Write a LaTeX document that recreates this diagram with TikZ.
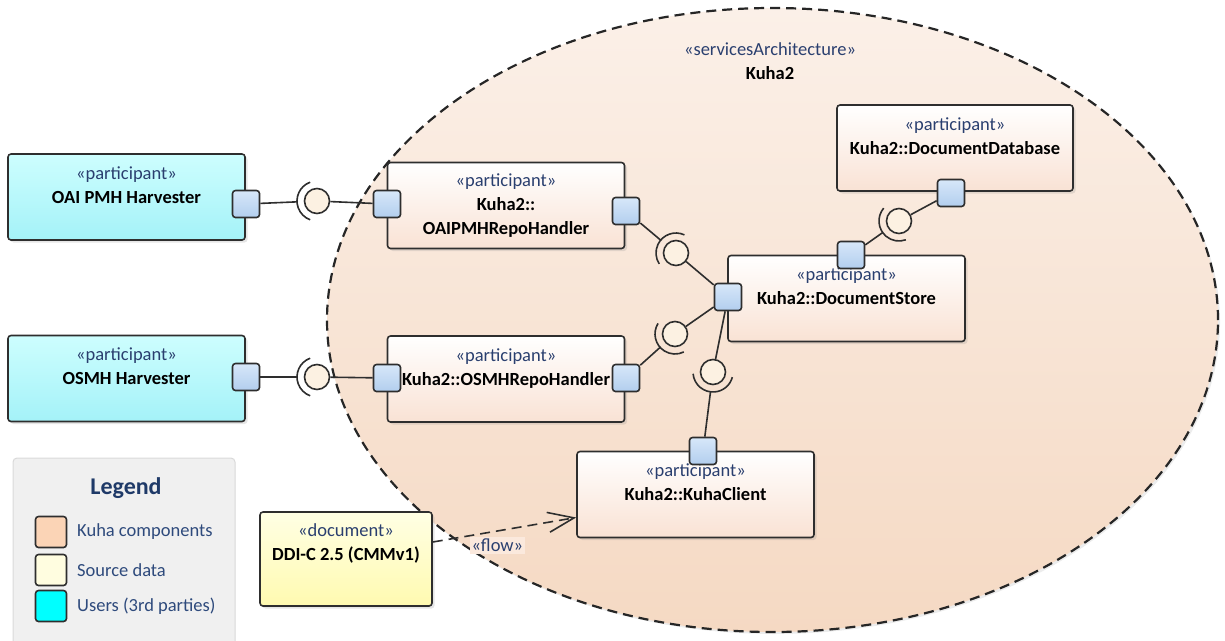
\documentclass[tikz,border=0pt]{standalone}
\usepackage{fontspec}
\setmainfont{Carlito}
\usepackage{tikz}
\usetikzlibrary{arrows.meta}
\usetikzlibrary{calc}
\usetikzlibrary{shapes.geometric, shadows}

\definecolor{areatop}{HTML}{FBF0E8}
\definecolor{areabot}{HTML}{F5D9C3}
\definecolor{compbot}{HTML}{F9E2D4}
\definecolor{usertop}{HTML}{CDFEFE}
\definecolor{userbot}{HTML}{A4F2F8}
\definecolor{porttop}{HTML}{D7E7F9}
\definecolor{portbot}{HTML}{B2CEEE}
\definecolor{ballfill}{HTML}{FCF1E2}
\definecolor{doctop}{HTML}{FFFFE4}
\definecolor{docbot}{HTML}{FFFAB0}
\definecolor{stereo}{HTML}{2A3F6F}
\definecolor{legendtxt}{HTML}{2E4A7C}
\definecolor{legendhead}{HTML}{1F3A68}
\definecolor{edge}{HTML}{2E2E2E}
\definecolor{swkuha}{HTML}{FBD4B6}
\definecolor{swsrc}{HTML}{FFFDE0}
\definecolor{swuser}{HTML}{00FFFF}
\definecolor{flowbg}{HTML}{FBE9DD}

\begin{document}
\begin{tikzpicture}[x=1pt, y=-1pt, line join=round,
    every node/.style={font=\fontsize{18.5}{24}\selectfont},
    comp/.style={draw=edge, line width=1.6pt, rounded corners=3pt,
        minimum width=237pt, minimum height=86pt, top color=white,
        bottom color=compbot, align=center, inner sep=0pt,
        drop shadow={shadow xshift=2.5pt, shadow yshift=-2.5pt, opacity=0.2}},
    user/.style={comp, top color=usertop, bottom color=userbot},
    doc/.style={comp, minimum width=172pt, minimum height=94pt,
        top color=doctop, bottom color=docbot},
    port/.style={draw=edge, line width=1.6pt, rounded corners=3pt,
        minimum size=27pt, inner sep=0pt, top color=porttop, bottom color=portbot},
    ball/.style={draw=edge, line width=1.6pt, circle, minimum size=25pt,
        inner sep=0pt, fill=ballfill},
    wire/.style={draw=edge, line width=1.6pt},
    swatch/.style={draw=edge, line width=1.6pt, rounded corners=3pt,
        minimum width=31pt, minimum height=31pt, inner sep=0pt}]

\useasboundingbox (0,0) rectangle (1225,640);

% Kuha2 services architecture
\node[ellipse, draw=black!85, line width=2.2pt, dash pattern=on 10pt off 6pt,
    minimum width=891pt, minimum height=624pt, top color=areatop, bottom color=areabot,
    drop shadow={shadow xshift=2pt, shadow yshift=-2pt, opacity=0.15}] (kuha) at (772.5,320) {};
\node[align=center, inner sep=0pt] (kuha-title) at (770,61)
    {\textcolor{stereo}{«servicesArchitecture»}\\ \textbf{Kuha2}};

% participants
\draw (126.5,197) node[user] (oai) {\textcolor{stereo}{«participant»}\\ \textbf{OAI PMH Harvester}\\ \mbox{}};
\draw (126.5,378.5) node[user] (osmh) {\textcolor{stereo}{«participant»}\\ \textbf{OSMH Harvester}\\ \mbox{}};
\draw (506,205.5) node[comp] (oaih) {\textcolor{stereo}{«participant»}\\ \textbf{Kuha2::}\\ \textbf{OAIPMHRepoHandler}};
\draw (506,379) node[comp] (osmhh) {\textcolor{stereo}{«participant»}\\ \textbf{Kuha2::OSMHRepoHandler}\\ \mbox{}};
\draw (846.5,298.5) node[comp] (store) {\textcolor{stereo}{«participant»}\\ \textbf{Kuha2::DocumentStore}\\ \mbox{}};
\draw (955,148) node[comp, minimum width=236pt] (db) {\textcolor{stereo}{«participant»}\\ \textbf{Kuha2::DocumentDatabase}\\ \mbox{}};
\draw (695.5,494.5) node[comp] (client) {\textcolor{stereo}{«participant»}\\ \textbf{Kuha2::KuhaClient}\\ \mbox{}};

% ports
\draw (246,204) node[port] (p-oai) {};
\draw (387,204) node[port] (p-oaih-l) {};
\draw (626,211) node[port] (p-oaih-r) {};
\draw (246,377) node[port] (p-osmh) {};
\draw (387,378) node[port] (p-osmhh-l) {};
\draw (626,378) node[port] (p-osmhh-r) {};
\draw (728,297) node[port] (p-store-l) {};
\draw (851,255) node[port] (p-store-t) {};
\draw (951,193) node[port] (p-db) {};
\draw (703,451) node[port] (p-client) {};

% provided interfaces
\draw (317,201) node[ball] (b-oai) {};
\draw (317,377) node[ball] (b-osmh) {};
\draw (676,253) node[ball] (b-oaih) {};
\draw (675,334) node[ball] (b-osmhh) {};
\draw (713,372) node[ball] (b-client) {};
\draw (899,221) node[ball] (b-db) {};

\draw[wire] (b-oai) -- (p-oaih-l);
\draw[wire] (b-osmh) -- (p-osmhh-l);
\draw[wire] (b-oaih) -- (p-store-l);
\draw[wire] (b-osmhh) -- (p-store-l);
\draw[wire] (b-client) -- (p-store-l);
\draw[wire] (b-db) -- (p-db);

% required interfaces
\draw[wire] (p-oai) -- ($(b-oai)!20pt!(p-oai)$);
\draw[wire] (p-osmh) -- ($(b-osmh)!20pt!(p-osmh)$);
\draw[wire] (p-oaih-r) -- ($(b-oaih)!20pt!(p-oaih-r)$);
\draw[wire] (p-osmhh-r) -- ($(b-osmhh)!20pt!(p-osmhh-r)$);
\draw[wire] (p-client) -- ($(b-client)!20pt!(p-client)$);
\draw[wire] (p-store-t) -- ($(b-db)!20pt!(p-store-t)$);

\draw[wire] ([shift={(110:20pt)}]b-oai.center) arc[start angle=110, end angle=250, radius=20pt];
\draw[wire] ([shift={(110:20pt)}]b-osmh.center) arc[start angle=110, end angle=250, radius=20pt];
\draw[wire] ([shift={(65:20pt)}]b-oaih.center) arc[start angle=65, end angle=213, radius=20pt];
\draw[wire] ([shift={(148:20pt)}]b-osmhh.center) arc[start angle=148, end angle=296, radius=20pt];
\draw[wire] ([shift={(185:20pt)}]b-client.center) arc[start angle=185, end angle=345, radius=20pt];
\draw[wire] ([shift={(140:20pt)}]b-db.center) arc[start angle=140, end angle=290, radius=20pt];

% source document and flow
\draw (346,559) node[doc] (ddi) {\textcolor{stereo}{«document»}\\ \textbf{DDI-C 2.5 (CMMv1)}\\[10pt] \mbox{}};
\draw[wire, dash pattern=on 10pt off 6pt, -{Straight Barb[length=26pt, width=20pt, line width=1.6pt]}]
    ([yshift=17pt]ddi.east) -- node[pos=0.45, below=5pt, fill=flowbg, inner sep=2pt, text=stereo] (flow) {«flow»}
    ([yshift=-23pt]client.west);

% legend
\draw (124,553) node[draw=black!15, line width=1pt, fill=black!6, rounded corners=4pt,
    minimum width=222pt, minimum height=190pt] (legend) {};
\node[text=legendhead, font=\fontsize{24}{28}\selectfont\bfseries] (legend-head) at (126,488) {Legend};
\draw (51,532) node[swatch, fill=swkuha] (sw-kuha) {};
\draw (51,570) node[swatch, fill=swsrc] (sw-src) {};
\draw (51,606) node[swatch, fill=swuser] (sw-user) {};
\node[anchor=west, text=legendtxt, inner sep=0pt] (lt-kuha) at (77,532) {Kuha components};
\node[anchor=west, text=legendtxt, inner sep=0pt] (lt-src) at (77,570) {Source data};
\node[anchor=west, text=legendtxt, inner sep=0pt] (lt-user) at (77,606) {Users (3rd parties)};

\end{tikzpicture}
\end{document}
